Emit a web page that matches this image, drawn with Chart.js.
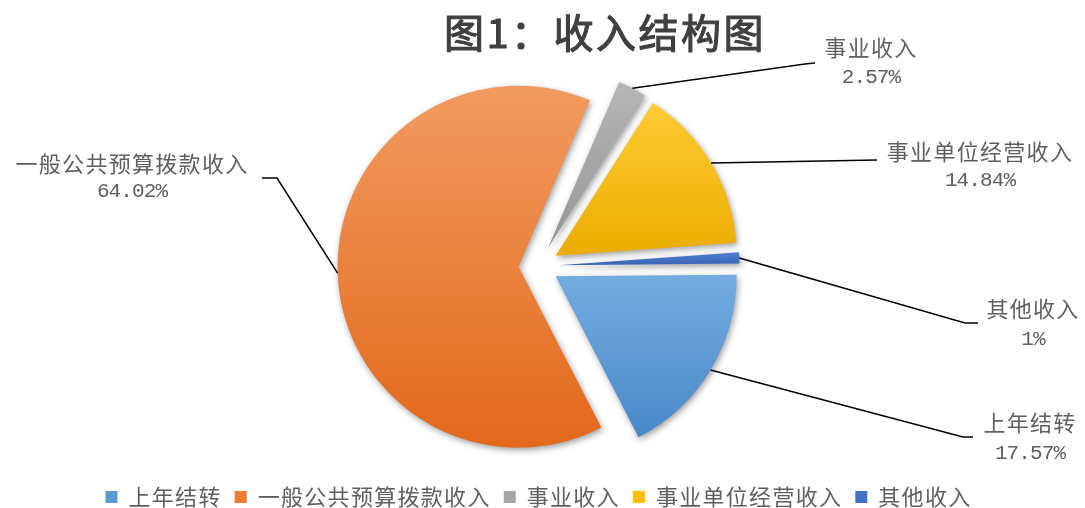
<!DOCTYPE html>
<html><head><meta charset="utf-8">
<script src="https://cdn.jsdelivr.net/npm/chart.js@4.4.0/dist/chart.umd.min.js"></script>
<style>html,body{margin:0;padding:0;background:#fff;}</style>
</head><body>
<canvas id="c" width="1085" height="508"></canvas>
<script>
const titleText = '图1：收入结构图';
const categories = ['上年结转', '一般公共预算拨款收入', '事业收入', '事业单位经营收入', '其他收入'];
const values = [17.57, 64.02, 2.57, 14.84, 1];
const baseColors = ['#5B9BD5', '#ED7D31', '#A5A5A5', '#FFC000', '#4472C4'];
const topColors = ['#74ACE0', '#F29B60', '#B5B5B5', '#FFCB35', '#5080D2'];
const bottomColors = ['#4888C8', '#E2681B', '#979797', '#EAAD00', '#3A64B4'];

const ROT = 89.5, RADIUS = 181, EXPLODE = 20;
const FONT = '"Noto Sans CJK SC", "Noto Sans", sans-serif';
const labelLayout = [
  {elbow: [963, 437], end: [973, 437], text: [1030, 423], pct: [1030, 453]},
  {elbow: [277, 178], end: [262, 178], text: [132, 164], pct: [132, 191]},
  {elbow: [805, 64], end: [815, 63], text: [871, 48], pct: [871, 77]},
  {elbow: null, end: [877, 160], text: [980, 152], pct: [980, 180]},
  {elbow: [965, 323], end: [978, 323], text: [1033, 309], pct: [1033, 339]}
];

function sliceGradient(c) {
  const chart = c.chart, a = chart.chartArea, i = c.dataIndex;
  if (i === undefined) return '#ccc';
  if (!a) return baseColors[i];
  const cx = (a.left + a.right) / 2, cy = (a.top + a.bottom) / 2;
  const total = values.reduce((s, v) => s + v, 0);
  let start = (ROT - 90) * Math.PI / 180;
  for (let k = 0; k < i; k++) start += values[k] / total * 2 * Math.PI;
  const end = start + values[i] / total * 2 * Math.PI;
  let minY = cy, maxY = cy;
  for (let t = 0; t <= 60; t++) {
    const ang = start + (end - start) * t / 60;
    const y = cy + RADIUS * Math.sin(ang);
    minY = Math.min(minY, y); maxY = Math.max(maxY, y);
  }
  const g = chart.ctx.createLinearGradient(0, minY, 0, maxY + 0.01);
  g.addColorStop(0, topColors[i]);
  g.addColorStop(1, bottomColors[i]);
  return g;
}

const spacingPlugin = {
  id: 'spacing',
  beforeLayout(chart) { chart.ctx.letterSpacing = '1.3px'; },
  beforeDraw(chart) { chart.ctx.letterSpacing = '1.3px'; }
};

const explodePlugin = {
  id: 'explode',
  beforeDatasetsDraw(chart) {
    const ctx = chart.ctx;
    const meta = chart.getDatasetMeta(0);
    meta.data.forEach((arc) => {
      const mid = (arc.startAngle + arc.endAngle) / 2;
      ctx.save();
      ctx.translate(Math.cos(mid) * EXPLODE, Math.sin(mid) * EXPLODE);
      ctx.shadowColor = 'rgba(0,0,0,0.38)';
      ctx.shadowBlur = 6;
      ctx.shadowOffsetX = 1.5;
      ctx.shadowOffsetY = 2.5;
      arc.draw(ctx);
      ctx.restore();
    });
    return false;
  },
  afterDraw(chart) {
    const ctx = chart.ctx;
    const meta = chart.getDatasetMeta(0);
    ctx.save();
    meta.data.forEach((arc, i) => {
      const mid = (arc.startAngle + arc.endAngle) / 2;
      const R = arc.outerRadius + EXPLODE;
      const ax = arc.x + Math.cos(mid) * R, ay = arc.y + Math.sin(mid) * R;
      const L = labelLayout[i];
      ctx.beginPath();
      ctx.moveTo(ax, ay);
      if (L.elbow) ctx.lineTo(L.elbow[0], L.elbow[1]);
      ctx.lineTo(L.end[0], L.end[1]);
      ctx.strokeStyle = '#000';
      ctx.lineWidth = 1.5;
      ctx.stroke();
      ctx.fillStyle = '#5f5f5f';
      ctx.textAlign = 'center';
      ctx.textBaseline = 'middle';
      ctx.font = '22px ' + FONT;
      ctx.letterSpacing = '1.3px';
      ctx.fillText(categories[i], L.text[0], L.text[1]);
      ctx.font = '21px "Liberation Mono", monospace';
      ctx.letterSpacing = '-0.9px';
      ctx.fillText(values[i] + '%', L.pct[0], L.pct[1]);
    });
    ctx.font = '40px ' + FONT;
    ctx.letterSpacing = '2.5px';
    ctx.fillStyle = '#404040';
    ctx.strokeStyle = '#404040';
    ctx.lineWidth = 1.1;
    ctx.textAlign = 'center';
    ctx.textBaseline = 'middle';
    ctx.fillText(titleText, 605, 33);
    ctx.strokeText(titleText, 605, 33);
    ctx.restore();
  }
};

new Chart(document.getElementById('c'), {
  type: 'pie',
  data: {
    labels: categories,
    datasets: [{
      data: values,
      backgroundColor: sliceGradient,
      borderWidth: 0
    }]
  },
  options: {
    responsive: false,
    animation: false,
    rotation: ROT,
    radius: RADIUS,
    layout: {padding: {top: 59, bottom: -10, left: 0, right: 8}},
    events: [],
    plugins: {
      tooltip: {enabled: false},
      title: {display: false},
      legend: {
        position: 'bottom',
        labels: {
          boxWidth: 12,
          boxHeight: 12,
          padding: 13,
          color: '#5f5f5f',
          font: {family: FONT, size: 22},
          generateLabels(chart) {
            const src = (Chart.overrides.pie || Chart.overrides.doughnut).plugins.legend.labels.generateLabels;
            const items = src(chart);
            items.forEach((it, i) => {
              it.fillStyle = baseColors[i];
              it.strokeStyle = baseColors[i];
              it.lineWidth = 0;
            });
            return items;
          }
        }
      }
    }
  },
  plugins: [spacingPlugin, explodePlugin]
});
</script>
</body></html>
